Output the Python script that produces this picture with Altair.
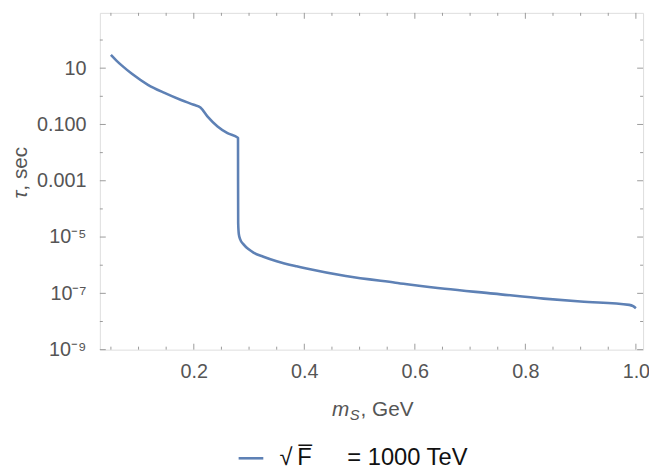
import math
import altair as alt
import pandas as pd

# ---- data ----
m_vals = [0.050, 0.060, 0.070, 0.088, 0.117, 0.147, 0.177, 0.200, 0.212, 0.225, 0.243, 0.261, 0.2795,
          0.2800, 0.2801, 0.2803, 0.2815, 0.2840, 0.2900, 0.3000, 0.3080, 0.3260, 0.3500, 0.3860, 0.4040,
          0.4750, 0.5650, 0.6540, 0.7430, 0.8330, 0.9000, 0.9880, 0.9950, 1.0000]
tau_vals = [29.5, 18.6, 12.3, 6.3, 2.57, 1.32, 0.74, 0.50, 0.40, 0.19, 0.085, 0.049, 0.034,
            0.033, 1.0e-3, 3.2e-5, 1.26e-5, 8.3e-6, 5.5e-6, 3.6e-6, 2.8e-6, 2.0e-6, 1.38e-6, 9.1e-7, 7.6e-7,
            4.1e-7, 2.4e-7, 1.45e-7, 9.8e-8, 6.5e-8, 5.1e-8, 3.9e-8, 3.5e-8, 2.95e-8]
series_name = "√\u2009F̅\u2003\u2002= 1000 TeV"

x_major = [0.2, 0.4, 0.6, 0.8, 1.0]
x_major_labels = ["0.2", "0.4", "0.6", "0.8", "1.0"]
x_minor = [0.05, 0.1, 0.15, 0.25, 0.3, 0.35, 0.45, 0.5, 0.55, 0.65, 0.7, 0.75, 0.85, 0.9, 0.95]
y_major = [1e1, 1e-1, 1e-3, 1e-5, 1e-7, 1e-9]
y_major_labels = ["10", "0.100", "0.001", "10⁻⁵", "10⁻⁷", "10⁻⁹"]
y_minor = [1e2, 1e0, 1e-2, 1e-4, 1e-6, 1e-8]

W, H = 550, 341
FONT = "Liberation Sans"
LINE_COLOR = "#5E81B5"
FRAME = "#9a9a9a"
LABEL = "#555555"

df = pd.DataFrame({"m": m_vals, "tau": tau_vals, "series": [series_name] * len(m_vals)})

xscale = alt.Scale(domain=[0.03, 1.013], nice=False, zero=False)
yscale = alt.Scale(type="log", domain=[1e-9, 923], nice=False)

x_label_expr = "''"
for v, l in zip(x_major, x_major_labels):
    x_label_expr = f"abs(datum.value - {v!r}) < 1e-6 ? '{l}' : ({x_label_expr})"

y_label_expr = "''"
for v, l in zip(y_major, y_major_labels):
    y_label_expr = f"abs(log(datum.value)/LN10 - ({round(math.log10(v))})) < 0.01 ? '{l}' : ({y_label_expr})"

x_axis = alt.Axis(values=x_major, labelExpr=x_label_expr,
                  ticks=False, tickSize=0, domain=False, grid=False, title=None,
                  labelPadding=12, labelFontSize=20, labelFont=FONT, labelColor=LABEL)
y_axis = alt.Axis(values=y_major, labelExpr=y_label_expr,
                  ticks=False, tickSize=0, domain=False, grid=False, title=None,
                  labelPadding=14, labelFontSize=20, labelFont=FONT, labelColor=LABEL)

line = alt.Chart(df).mark_line(strokeWidth=2.6, clip=True, interpolate="monotone").encode(
    x=alt.X("m:Q", scale=xscale, axis=x_axis),
    y=alt.Y("tau:Q", scale=yscale, axis=y_axis),
    color=alt.Color("series:N", scale=alt.Scale(range=[LINE_COLOR]),
                    legend=alt.Legend(title=None, orient="none", legendX=139, legendY=437,
                                      symbolType="stroke", symbolSize=625, symbolStrokeWidth=2.6,
                                      labelFontSize=24, labelFont=FONT, labelColor="#111111",
                                      labelOffset=15, labelLimit=400)),
)

dx_major = pd.DataFrame({"v": x_major})
dx_minor = pd.DataFrame({"v": x_minor})
dy_major = pd.DataFrame({"v": y_major})
dy_minor = pd.DataFrame({"v": y_minor})


def xticks(d, length):
    bottom = alt.Chart(d).mark_rule(color=FRAME, strokeWidth=1).encode(
        x=alt.X("v:Q", scale=xscale, axis=x_axis), y=alt.value(H), y2=alt.value(H - length))
    top = alt.Chart(d).mark_rule(color=FRAME, strokeWidth=1).encode(
        x=alt.X("v:Q", scale=xscale, axis=x_axis), y=alt.value(0), y2=alt.value(length))
    return [bottom, top]


def yticks(d, length):
    left = alt.Chart(d).mark_rule(color=FRAME, strokeWidth=1).encode(
        y=alt.Y("v:Q", scale=yscale, axis=y_axis), x=alt.value(0), x2=alt.value(length))
    right = alt.Chart(d).mark_rule(color=FRAME, strokeWidth=1).encode(
        y=alt.Y("v:Q", scale=yscale, axis=y_axis), x=alt.value(W), x2=alt.value(W - length))
    return [left, right]


tick_layers = xticks(dx_major, 6) + xticks(dx_minor, 3) + yticks(dy_major, 6) + yticks(dy_minor, 3)

one = pd.DataFrame({"k": [0]})
TITLE_SIZE = 21
xt_m = alt.Chart(one).mark_text(text="m", fontStyle="italic", font=FONT, fontSize=TITLE_SIZE,
                                color=LABEL, align="left", baseline="alphabetic").encode(
    x=alt.value(235), y=alt.value(H + 67))
xt_s = alt.Chart(one).mark_text(text="S", fontStyle="italic", font=FONT, fontSize=15,
                                color=LABEL, align="left", baseline="alphabetic").encode(
    x=alt.value(253), y=alt.value(H + 71))
xt_rest = alt.Chart(one).mark_text(text=", GeV", font=FONT, fontSize=TITLE_SIZE,
                                   color=LABEL, align="left", baseline="alphabetic").encode(
    x=alt.value(264), y=alt.value(H + 67))

yt_tau = alt.Chart(one).mark_text(text="τ", fontStyle="italic", font=FONT, fontSize=TITLE_SIZE,
                                  color=LABEL, align="right", baseline="middle", angle=270).encode(
    x=alt.value(-80), y=alt.value(180))
yt_rest = alt.Chart(one).mark_text(text=", sec", font=FONT, fontSize=TITLE_SIZE,
                                   color=LABEL, align="left", baseline="middle", angle=270).encode(
    x=alt.value(-80), y=alt.value(180))

chart = alt.layer(line, *tick_layers, xt_m, xt_s, xt_rest, yt_tau, yt_rest).properties(
    width=W, height=H,
    autosize=alt.AutoSizeParams(type="none"),
    padding={"left": 93, "top": 2, "right": 6, "bottom": 124},
).configure_view(stroke=FRAME, strokeWidth=1.2).configure(background="white")

chart.save("out.html", embed_options={"renderer": "svg", "actions": False})
